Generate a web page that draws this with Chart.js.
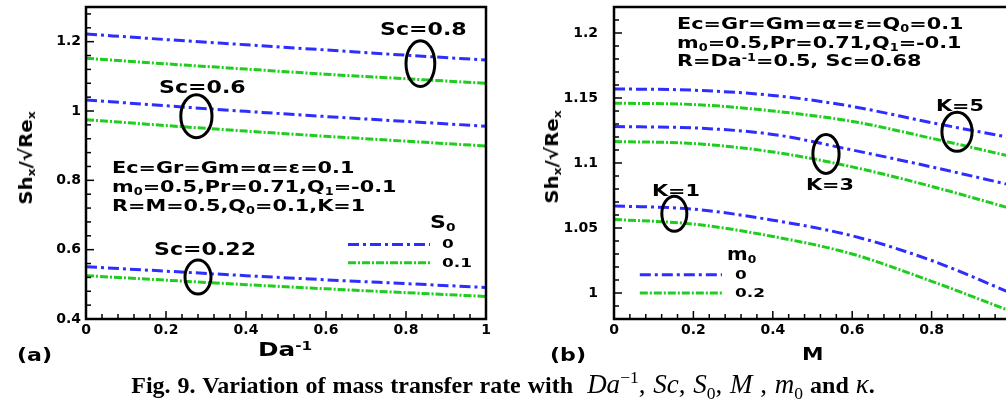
<!DOCTYPE html>
<html>
<head>
<meta charset="utf-8">
<script src="https://cdn.jsdelivr.net/npm/chart.js@4.4.1/dist/chart.umd.min.js"></script>
<style>
html, body { margin: 0; padding: 0; background: #fff; width: 1006px; height: 405px; overflow: hidden; }
body { position: relative; font-family: 'DejaVu Sans', sans-serif; }
canvas { position: absolute; top: 0; }
.t { position: absolute; font-weight: bold; line-height: 1; white-space: nowrap; transform-origin: 0 0; transform: scaleX(1.3); color: #000; }
.t sub { font-size: 62%; vertical-align: -0.3em; line-height: 0; }
.t sup { font-size: 62%; vertical-align: 0.55em; line-height: 0; }
.ytitle { position: absolute; font-weight: bold; font-size: 18px; line-height: 1; white-space: nowrap; transform: translate(-50%, -50%) rotate(-90deg) scaleX(1.1); }
.ytitle sub { font-size: 62%; vertical-align: -0.3em; line-height: 0; }
#cap { position: absolute; left: 0; top: 371px; width: 1006px; text-align: center; font-family: 'Liberation Serif', serif; font-weight: bold; font-size: 24px; line-height: 1; white-space: nowrap; word-spacing: 1px; }
#cap .m { font-weight: normal; font-size: 27px; }
#cap sub, #cap sup { font-size: 65%; line-height: 0; }
</style>
</head>
<body>
<canvas id="chartA" width="500" height="370" style="left:0"></canvas>
<canvas id="chartB" width="530" height="370" style="left:500px"></canvas>

<!-- panneau (a) -->
<div class="t" style="left:380px;top:21px;font-size:17px">Sc=0.8</div>
<div class="t" style="left:159px;top:79px;font-size:17px">Sc=0.6</div>
<div class="t" style="left:154px;top:241px;font-size:17px">Sc=0.22</div>
<div class="t" style="left:112px;top:160px;font-size:16px">Ec=Gr=Gm=α=ε=0.1</div>
<div class="t" style="left:112px;top:179px;font-size:16px">m<sub>0</sub>=0.5,Pr=0.71,Q<sub>1</sub>=-0.1</div>
<div class="t" style="left:112px;top:198px;font-size:16px">R=M=0.5,Q<sub>0</sub>=0.1,K=1</div>
<div class="t" style="left:430px;top:214px;font-size:17px">S<sub>0</sub></div>
<div class="t" style="left:442px;top:237px;font-size:13px">0</div>
<div class="t" style="left:442px;top:256px;font-size:13px">0.1</div>
<div class="t" style="left:17px;top:347px;font-size:17px">(a)</div>
<div class="t" style="left:258px;top:340px;font-size:19px">Da<sup>-1</sup></div>
<div class="ytitle" style="left:26px;top:158px">Sh<sub>x</sub>/√Re<sub>x</sub></div>

<!-- panneau (b) -->
<div class="t" style="left:677px;top:16px;font-size:16px">Ec=Gr=Gm=α=ε=Q<sub>0</sub>=0.1</div>
<div class="t" style="left:677px;top:35px;font-size:16px">m<sub>0</sub>=0.5,Pr=0.71,Q<sub>1</sub>=-0.1</div>
<div class="t" style="left:677px;top:53px;font-size:16px">R=Da<sup>-1</sup>=0.5, Sc=0.68</div>
<div class="t" style="left:936px;top:98px;font-size:16px">K=5</div>
<div class="t" style="left:806px;top:177px;font-size:16px">K=3</div>
<div class="t" style="left:652px;top:183px;font-size:16px">K=1</div>
<div class="t" style="left:727px;top:245px;font-size:18px;transform:scaleX(1.1)">m<sub>0</sub></div>
<div class="t" style="left:735px;top:268px;font-size:13px">0</div>
<div class="t" style="left:735px;top:286px;font-size:13px">0.2</div>
<div class="t" style="left:550px;top:347px;font-size:17px">(b)</div>
<div class="t" style="left:802px;top:345px;font-size:18px;transform:scaleX(1.2)">M</div>
<div class="ytitle" style="left:552px;top:157px">Sh<sub>x</sub>/√Re<sub>x</sub></div>

<div id="cap">Fig. 9. Variation of mass transfer rate with&nbsp; <span class="m"><i>Da</i><sup>−1</sup>, <i>Sc</i>, <i>S</i><sub>0</sub>, <i>M</i> , <i>m</i><sub>0</sub></span> and <span class="m"><i>κ</i></span>.</div>

<script>
// Données
// (a) Sh_x/sqrt(Re_x) en fonction de Da^-1
const daInv = [0, 0.2, 0.4, 0.6, 0.8, 1];
const sc08_s0_0 = [1.222, 1.206, 1.191, 1.176, 1.161, 1.147];
const sc08_s0_01 = [1.152, 1.136, 1.121, 1.106, 1.093, 1.080];
const sc06_s0_0 = [1.032, 1.015, 0.999, 0.984, 0.970, 0.956];
const sc06_s0_01 = [0.975, 0.958, 0.942, 0.927, 0.913, 0.899];
const sc022_s0_0 = [0.551, 0.538, 0.525, 0.513, 0.502, 0.491];
const sc022_s0_01 = [0.525, 0.512, 0.499, 0.487, 0.476, 0.465];

// (b) Sh_x/sqrt(Re_x) en fonction de M
const mVals = [0, 0.2, 0.4, 0.6, 0.8, 1];
const k5_m0_0 = [1.157, 1.156, 1.152, 1.1435, 1.131, 1.1195];
const k5_m0_02 = [1.146, 1.145, 1.140, 1.132, 1.119, 1.105];
const k3_m0_0 = [1.128, 1.127, 1.122, 1.110, 1.097, 1.083];
const k3_m0_02 = [1.1165, 1.115, 1.1085, 1.097, 1.082, 1.065];
const k1_m0_0 = [1.067, 1.0645, 1.056, 1.044, 1.025, 1.000];
const k1_m0_02 = [1.0566, 1.053, 1.0435, 1.030, 1.009, 0.986];

// Graduations
const xTicksA = [0, 0.2, 0.4, 0.6, 0.8, 1];
const yTicksA = [0.4, 0.6, 0.8, 1, 1.2];
const xTicksB = [0, 0.2, 0.4, 0.6, 0.8, 1];
const yTicksB = [1, 1.05, 1.1, 1.15, 1.2];

const BLUE = 'rgb(45, 45, 255)';
const GREEN = 'rgb(30, 205, 30)';
const DASH_BLUE = [11, 4, 3, 4];
const DASH_GREEN = [8, 2, 2, 2];

function serie(xs, ys, color, dash) {
    return {
        data: xs.map((x, i) => ({ x: x, y: ys[i] })),
        borderColor: color,
        borderWidth: 3,
        borderDash: dash,
        pointRadius: 0,
        fill: false,
        cubicInterpolationMode: 'monotone'
    };
}

// cadre, graduations internes, ellipses et échantillons de légende
const decor = {
    id: 'decor',
    afterDatasetsDraw(chart, args, o) {
        const { ctx, chartArea: a, scales: { x, y } } = chart;
        ctx.save();
        o.keys.forEach(k => {
            const ds = chart.data.datasets[k.ds];
            ctx.strokeStyle = ds.borderColor;
            ctx.lineWidth = ds.borderWidth;
            ctx.setLineDash(ds.borderDash);
            ctx.beginPath();
            ctx.moveTo(x.getPixelForValue(k.x0), y.getPixelForValue(k.y));
            ctx.lineTo(x.getPixelForValue(k.x1), y.getPixelForValue(k.y));
            ctx.stroke();
        });
        ctx.setLineDash([]);
        ctx.strokeStyle = '#000';
        ctx.lineWidth = 3;
        o.rings.forEach(r => {
            const cx = x.getPixelForValue(r.x), cy = y.getPixelForValue(r.y);
            const rx = Math.abs(x.getPixelForValue(r.x + r.rx) - cx);
            const ry = Math.abs(y.getPixelForValue(r.y + r.ry) - cy);
            ctx.beginPath();
            ctx.ellipse(cx, cy, rx, ry, 0, 0, Math.PI * 2);
            ctx.stroke();
        });
        ctx.lineWidth = 1.5;
        const isMajor = (v, list) => list.some(t => Math.abs(t - v) < 1e-6);
        let n = Math.floor((x.max - x.min) / o.xMinor + 1e-6);
        for (let i = 0; i <= n; i++) {
            const v = x.min + i * o.xMinor;
            const px = x.getPixelForValue(v);
            const len = isMajor(v, o.xMajor) ? 8 : 5;
            ctx.beginPath(); ctx.moveTo(px, a.bottom); ctx.lineTo(px, a.bottom - len); ctx.stroke();
        }
        n = Math.floor((y.max - y.min) / o.yMinor + 1e-6);
        for (let i = 0; i <= n; i++) {
            const v = y.min + i * o.yMinor;
            const py = y.getPixelForValue(v);
            const len = isMajor(v, o.yMajor) ? 8 : 5;
            ctx.beginPath(); ctx.moveTo(a.left, py); ctx.lineTo(a.left + len, py); ctx.stroke();
        }
        ctx.lineWidth = 2.5;
        ctx.strokeRect(a.left, a.top, a.right - a.left, a.bottom - a.top);
        ctx.restore();
    }
};

function axe(min, max, ticks, pad, fitW, fitH) {
    return {
        type: 'linear',
        min: min,
        max: max,
        grid: { display: false, drawTicks: false },
        border: { display: false },
        afterBuildTicks: s => { s.ticks = ticks.map(v => ({ value: v })); },
        afterFit: s => {
            if (fitW) s.width = fitW;
            if (fitH) s.height = fitH;
            s.paddingTop = 0; s.paddingBottom = 0;
            s.paddingLeft = 0; s.paddingRight = 0;
        },
        ticks: {
            color: '#000',
            padding: pad,
            maxRotation: 0,
            autoSkip: false,
            font: { family: 'DejaVu Sans', size: 14, weight: 'bold' },
            callback: v => String(v)
        }
    };
}

Chart.defaults.animation = false;

new Chart(document.getElementById('chartA'), {
    type: 'line',
    data: {
        datasets: [
            serie(daInv, sc08_s0_0, BLUE, DASH_BLUE),
            serie(daInv, sc08_s0_01, GREEN, DASH_GREEN),
            serie(daInv, sc06_s0_0, BLUE, DASH_BLUE),
            serie(daInv, sc06_s0_01, GREEN, DASH_GREEN),
            serie(daInv, sc022_s0_0, BLUE, DASH_BLUE),
            serie(daInv, sc022_s0_01, GREEN, DASH_GREEN)
        ]
    },
    options: {
        responsive: false,
        layout: { padding: { top: 7, right: 14, left: 0, bottom: 0 } },
        plugins: {
            legend: { display: false },
            tooltip: { enabled: false },
            decor: {
                xMinor: 0.04, yMinor: 0.04, xMajor: xTicksA, yMajor: yTicksA,
                rings: [
                    { x: 0.836, y: 1.137, rx: 0.036, ry: 0.066 },
                    { x: 0.276, y: 0.985, rx: 0.039, ry: 0.062 },
                    { x: 0.28, y: 0.521, rx: 0.0325, ry: 0.049 }
                ],
                keys: [
                    { ds: 0, x0: 0.655, x1: 0.86, y: 0.615 },
                    { ds: 1, x0: 0.655, x1: 0.86, y: 0.562 }
                ]
            }
        },
        scales: {
            x: axe(0, 1, xTicksA, 3, 0, 51),
            y: axe(0.4, 1.3, yTicksA, 5, 86, 0)
        }
    },
    plugins: [decor]
});

new Chart(document.getElementById('chartB'), {
    type: 'line',
    data: {
        datasets: [
            serie(mVals, k5_m0_0, BLUE, DASH_BLUE),
            serie(mVals, k5_m0_02, GREEN, DASH_GREEN),
            serie(mVals, k3_m0_0, BLUE, DASH_BLUE),
            serie(mVals, k3_m0_02, GREEN, DASH_GREEN),
            serie(mVals, k1_m0_0, BLUE, DASH_BLUE),
            serie(mVals, k1_m0_02, GREEN, DASH_GREEN)
        ]
    },
    options: {
        responsive: false,
        layout: { padding: { top: 7, right: 19, left: 0, bottom: 0 } },
        plugins: {
            legend: { display: false },
            tooltip: { enabled: false },
            decor: {
                xMinor: 0.04, yMinor: 0.01, xMajor: xTicksB, yMajor: yTicksB,
                rings: [
                    { x: 0.864, y: 1.124, rx: 0.038, ry: 0.015 },
                    { x: 0.534, y: 1.107, rx: 0.033, ry: 0.015 },
                    { x: 0.152, y: 1.061, rx: 0.0315, ry: 0.0135 }
                ],
                keys: [
                    { ds: 0, x0: 0.065, x1: 0.272, y: 1.014 },
                    { ds: 1, x0: 0.065, x1: 0.272, y: 1.0 }
                ]
            }
        },
        scales: {
            x: axe(0, 1, xTicksB, 3, 0, 51),
            y: axe(0.98, 1.22, yTicksB, 16, 114, 0)
        }
    },
    plugins: [decor]
});
</script>
</body>
</html>
